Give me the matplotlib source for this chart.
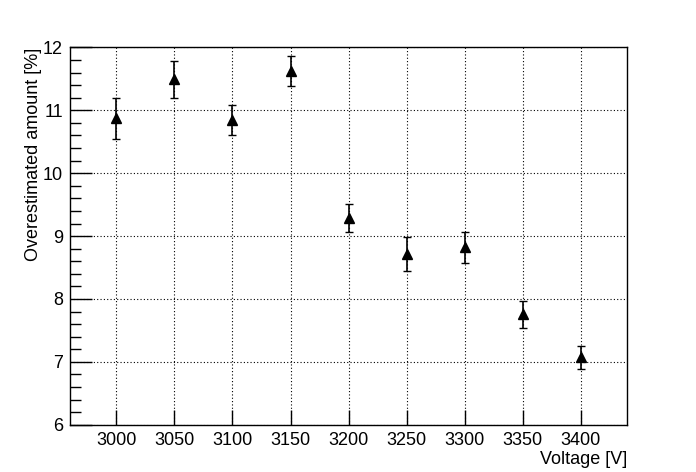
import numpy as np
import matplotlib.pyplot as plt
from matplotlib.ticker import MultipleLocator

plt.rcParams['font.family'] = ['Liberation Sans', 'DejaVu Sans']

# data
voltage = [3000, 3050, 3100, 3150, 3200, 3250, 3300, 3350, 3400]
overest = [10.87, 11.49, 10.84, 11.63, 9.29, 8.72, 8.82, 7.755, 7.075]
err = [0.32, 0.30, 0.24, 0.24, 0.22, 0.27, 0.24, 0.215, 0.185]

fig = plt.figure(figsize=(6.96, 4.72), dpi=100)
ax = fig.add_axes([0.1006, 0.1, 0.8003, 0.7996])

ax.errorbar(voltage, overest, yerr=err, fmt='^', color='black', ms=6.5,
            elinewidth=1.2, capsize=3, capthick=1.0, zorder=3)

ax.set_xlim(2960, 3440)
ax.set_ylim(6, 12)
ax.xaxis.set_major_locator(MultipleLocator(50))
ax.yaxis.set_major_locator(MultipleLocator(1))
ax.yaxis.set_minor_locator(MultipleLocator(0.2))

ax.grid(True, which='major', color='black', linestyle=(0, (1, 2)), linewidth=0.8)
ax.tick_params(axis='both', which='major', direction='in', labelsize=13, width=1, color='black')
ax.tick_params(axis='x', which='major', length=11, pad=5)
ax.tick_params(axis='y', which='major', length=16, pad=5)
ax.tick_params(axis='y', which='minor', direction='in', length=8, width=1)
for s in ax.spines.values():
    s.set_linewidth(1.0)

ax.set_xlabel('Voltage [V]', fontsize=13)
ax.xaxis.set_label_coords(1.0, -0.069)
ax.xaxis.label.set_horizontalalignment('right')
ax.set_ylabel('Overestimated amount [%]', fontsize=13)
ax.yaxis.set_label_coords(-0.05, 1.0)
ax.yaxis.label.set_horizontalalignment('right')

fig.savefig('out.png', dpi=100)
